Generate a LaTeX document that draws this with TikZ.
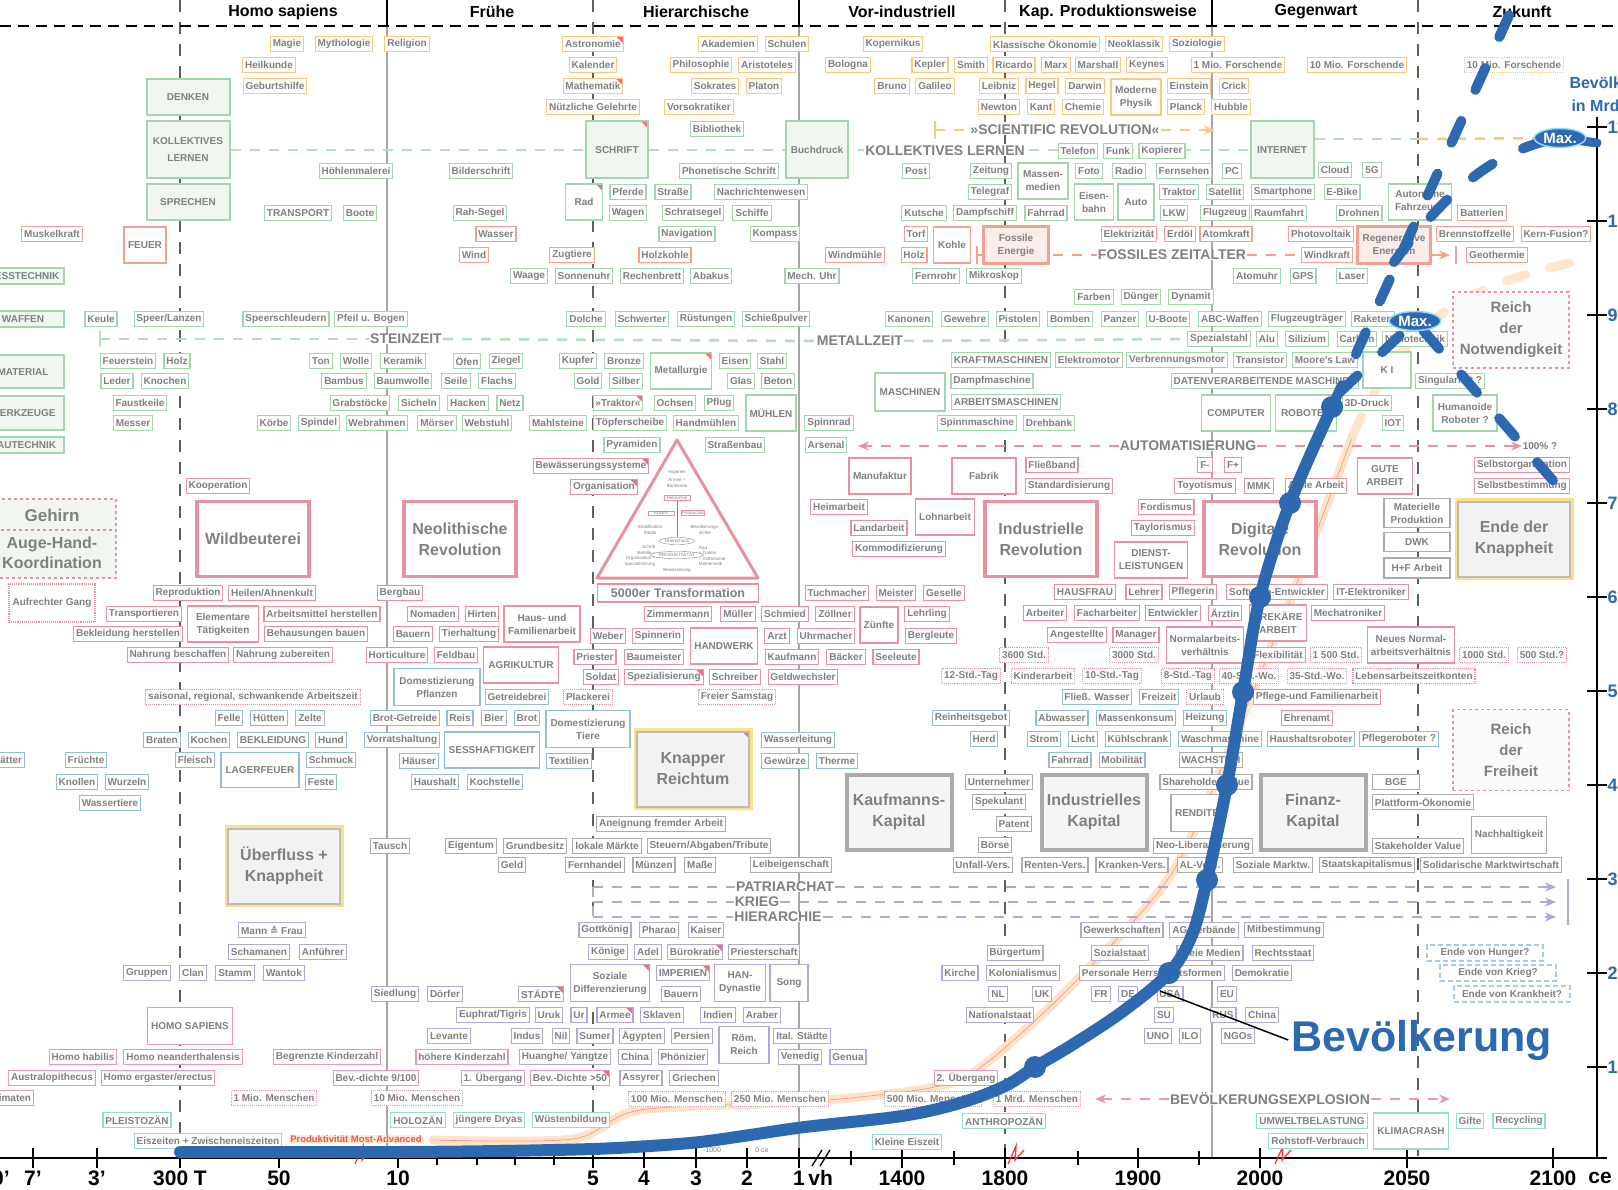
\documentclass[tikz,border=0pt]{standalone}
\usepackage{fontspec}
\setmainfont{Liberation Sans}
\newfontfamily\symfont{DejaVu Sans}
\usetikzlibrary{shapes.geometric,arrows.meta}

\definecolor{txt}{HTML}{808080}
\definecolor{cgreen}{HTML}{A3D5AE}
\definecolor{corange}{HTML}{F9C97E}
\definecolor{csalmon}{HTML}{F3A093}
\definecolor{cred}{HTML}{E8929F}
\definecolor{cblue}{HTML}{93BCE2}
\definecolor{cpurple}{HTML}{B3A6D9}
\definecolor{cpink}{HTML}{E597C2}
\definecolor{cteal}{HTML}{95DAD3}
\definecolor{cgray}{HTML}{ABABAB}
\definecolor{cyellow}{HTML}{FBE08A}
\definecolor{ctri}{HTML}{E57383}
\definecolor{pblue}{HTML}{2D69B0}
\definecolor{gfill}{HTML}{F2F6F0}
\definecolor{lgray}{HTML}{F2F2F2}
\definecolor{sfill}{HTML}{FBEDE8}

\pgfdeclarelayer{bottom}
\pgfdeclarelayer{back}
\pgfdeclarelayer{front}
\pgfsetlayers{bottom,back,main,front}

\tikzset{
  bx/.style={draw=#1, line width=1.1pt, fill=white, text=txt, inner xsep=2.4pt, inner ysep=0pt,
    minimum height=15pt, font=\bfseries\fontsize{10}{11}\selectfont},
  gb/.style={bx=cgreen}, ob/.style={bx=corange}, sb/.style={bx=csalmon},
  rb/.style={bx=cred}, bb/.style={bx=cblue}, pb/.style={bx=cpurple},
  kb/.style={bx=cpink}, tb/.style={bx=cteal}, yb/.style={bx=cgray},
  dotbx/.style={bx=#1, densely dotted, line width=1.2pt},
  tall/.style={minimum height=36pt, align=center, font=\bfseries\fontsize{10}{13}\selectfont},
  redtip/.style={path picture={\fill[ctri] (path picture bounding box.north east)
    -- ++(-7pt,0pt) -- ++(7pt,-7pt) -- cycle;}},
  grnbig/.style={draw=cgreen, line width=2pt, fill=gfill, text=txt, align=center,
    minimum width=83pt, minimum height=36pt, font=\bfseries\fontsize{10}{17}\selectfont},
  fosbox/.style={draw=csalmon, line width=2.5pt, fill=sfill, text=txt, align=center,
    minimum height=37pt, font=\bfseries\fontsize{10}{13}\selectfont},
  bigbox/.style={draw=#1, line width=3.5pt, fill=white, text=txt, align=center,
    minimum width=112pt, minimum height=75pt, font=\bfseries\fontsize{16}{21}\selectfont},
  capbox/.style={bigbox=cgray, line width=4pt, fill=white!96!black, minimum width=105pt},
  yelbox/.style={bigbox=cgray!80, line width=2pt, fill=lgray, preaction={draw=cyellow, line width=7pt}},
  reich/.style={draw=cred, dashed, line width=1.2pt, fill=white!98!black, text=txt, align=center,
    minimum width=116pt, font=\bfseries\fontsize{15}{21}\selectfont},
  endebx/.style={draw=cblue!80, dash pattern=on 5pt off 3pt, line width=1.1pt, fill=white, text=txt,
    minimum width=116pt, minimum height=16pt, font=\bfseries\fontsize{10}{11}\selectfont},
  theme/.style={fill=white, text=txt, inner xsep=1pt, inner ysep=0pt, font=\bfseries\fontsize{14}{14}\selectfont},
  head/.style={font=\bfseries\fontsize{16}{16}\selectfont},
  axl/.style={font=\bfseries\fontsize{21}{21}\selectfont},
  yax/.style={text=pblue, anchor=west, font=\bfseries\fontsize{18}{18}\selectfont},
  maxel/.style={ellipse, fill=pblue, draw=cyan!45, line width=1.5pt, text=white, inner sep=1.5pt,
    font=\bfseries\fontsize{15}{15}\selectfont},
  pyr/.style={text=txt, inner sep=0.6pt, font=\fontsize{4.5}{5.5}\selectfont},
  divdash/.style={gray!75!black, line width=1.2pt, dash pattern=on 12pt off 10pt},
  divline/.style={gray!70, line width=1.2pt},
  gdash/.style={cgreen!80, line width=2.5pt, dash pattern=on 10pt off 9pt},
  odash/.style={corange, line width=2.5pt, dash pattern=on 10pt off 9pt},
  sdash/.style={csalmon, line width=2pt, dash pattern=on 10pt off 9pt},
  rdash/.style={cred, line width=2pt, dash pattern=on 10pt off 9pt},
  pdash/.style={cpurple, line width=2pt, dash pattern=on 10pt off 9pt},
  kdash/.style={cpink, line width=2pt, dash pattern=on 10pt off 9pt},
  tip/.style={-{Stealth[length=11pt,width=9pt]}},
  pop/.style={pblue, line width=12pt, line cap=round, line join=round},
  popdash/.style={pblue, line width=10pt, line cap=round, dash pattern=on 24pt off 34pt},
}

\begin{document}
\begin{tikzpicture}[x=1pt,y=-1pt]
\useasboundingbox (0,0) rectangle (1618,1190);
\begin{pgfonlayer}{bottom}
  \fill[white] (0,0) rectangle (1618,1190);
\end{pgfonlayer}

% epochs
\node[head] (hsap) at (283,12) {Homo sapiens};
\node[head] (hfrueh) at (492,12) {Frühe};
\node[head] (hhier) at (696,12) {Hierarchische};
\node[head] (hvor) at (902,12) {Vor-industriell};
\node[head] (hkap) at (1108,12) {Kap. Produktionsweise};
\node[head] (hgeg) at (1316,12) {Gegenwart};
\node[head] (hzuk) at (1522,12) {Zukunft};

% theme labels
\node[theme] (steinzeit) at (406,339) {STEINZEIT};
\node[theme] (metallzeit) at (860,341) {METALLZEIT};
\node[theme] (kolllab) at (945,151) {KOLLEKTIVES LERNEN};
\node[theme] (scirev) at (1065,130) {»SCIENTIFIC REVOLUTION«};
\node[theme] (fossilz) at (1172,255) {FOSSILES ZEITALTER};
\node[theme] (automat) at (1188,446) {AUTOMATISIERUNG};
\node[theme] (patri) at (785,887) {PATRIARCHAT};
\node[theme] (kriega) at (757,902) {KRIEG};
\node[theme] (hierar) at (778,917) {HIERARCHIE};
\node[theme] (bevexpl) at (1270,1099) {BEVÖLKERUNGSEXPLOSION};
\node[text=txt, font=\bfseries\fontsize{10}{10}\selectfont] (pct) at (1540,446) {100\% ?};

% wissen
\foreach \n/\x/\y/\t in {magie/287/44/Magie, mytho/344/44/Mythologie, religion/407/44/Religion,
  heilk/269/65/Heilkunde, geburt/275/86/Geburtshilfe, kalender/593/65/Kalender,
  gelehrte/593/107/Nützliche Gelehrte, akad/728/44/Akademien, schulen/787/44/Schulen,
  philo/701/65/Philosophie, aristo/767/65/Aristoteles, sokrates/715/86/Sokrates,
  platon/764/86/Platon, vorsokr/699/107/Vorsokratiker, kopernikus/893/44/Kopernikus,
  bologna/848/65/Bologna, kepler/930/65/Kepler, smith/971/65/Smith, ricardo/1014/65/Ricardo,
  marx/1056/65/Marx, marshall/1098/65/Marshall, keynes/1147/65/Keynes, bruno/892/86/Bruno,
  galileo/935/86/Galileo, leibniz/999/86/Leibniz, hegel/1042/86/Hegel, darwin/1085/86/Darwin,
  einstein/1189/86/Einstein, newton/999/107/Newton, kant/1041/107/Kant, chemie/1083/107/Chemie,
  planck/1186/107/Planck, klassik/1045/44/Klassische Ökonomie, neoklassik/1134/44/Neoklassik,
  soziologie/1197/44/Soziologie, forscha/1238/65/1 Mio. Forschende, forschb/1357/65/10 Mio. Forschende,
  crick/1234/86/Crick, hubble/1231/107/Hubble}
  \node[ob] (\n) at (\x,\y) {\t};
\node[ob,redtip] (astro) at (593,44) {Astronomie};
\node[ob,redtip] (mathe) at (593,86) {Mathematik};
\node[ob,tall,minimum width=50pt] (modphys) at (1136,97) {Moderne\\Physik};
\node[dotbx=corange] (forschc) at (1514,65) {10 Mio. Forschende};

% technik
\node[grnbig] (denken) at (188,97) {DENKEN};
\node[grnbig, minimum height=57pt] (kollektiv) at (188,150) {KOLLEKTIVES\\LERNEN};
\node[grnbig] (sprechen) at (188,202) {SPRECHEN};
\node[grnbig, minimum width=62pt, minimum height=57pt, redtip] (schrift) at (617,150) {SCHRIFT};
\node[grnbig, minimum width=62pt, minimum height=57pt] (buchdruck) at (817,150) {Buchdruck};
\node[grnbig, minimum width=63pt, minimum height=57pt] (internet) at (1282,150) {INTERNET};
\node[grnbig, minimum width=82pt, minimum height=16pt] (messtech) at (23,276) {MESSTECHNIK};
\node[grnbig, minimum width=82pt, minimum height=16pt] (waffen) at (23,319) {WAFFEN};
\node[grnbig, minimum width=82pt, minimum height=33pt] (material) at (23,372) {MATERIAL};
\node[grnbig, minimum width=82pt, minimum height=34pt] (werkzeuge) at (23,413) {WERKZEUGE};
\node[grnbig, minimum width=82pt, minimum height=16pt] (bautech) at (23,445) {BAUTECHNIK};

\foreach \n/\x/\y/\t in {hoehlen/356/171/Höhlenmalerei, transport/298/213/TRANSPORT, boote/360/213/Boote,
  keule/101/319/Keule, speer/169/319/{Speer/Lanzen}, speersch/286/319/Speerschleudern,
  pfeil/371/319/Pfeil u. Bogen, feuerst/128/361/Feuerstein, holz/177/361/Holz, leder/117/381/Leder,
  knochen/165/381/Knochen, ton/321/361/Ton, wolle/356/361/Wolle, keramik/403/361/Keramik,
  bambus/344/381/Bambus, baumwolle/403/381/Baumwolle, oefen/467/361/Öfen, ziegel/506/361/Ziegel,
  seile/456/381/Seile, flachs/497/381/Flachs, faustk/140/403/Faustkeile, messer/133/423/Messer,
  grabst/360/403/Grabstöcke, sicheln/419/403/Sicheln, hacken/468/403/Hacken, netz/510/403/Netz,
  koerbe/274/423/Körbe, spindel/319/423/Spindel, webrahmen/377/423/Webrahmen, moerser/437/423/Mörser,
  webstuhl/487/423/Webstuhl, mahlst/558/423/Mahlsteine, ochsen/675/403/Ochsen, pflug/719/403/Pflug,
  toepfer/630/423/Töpferscheibe, handm/706/423/Handmühlen, pyramiden/632/445/Pyramiden,
  strassenb/735/445/Straßenbau, spinnrad/829/423/Spinnrad, arsenal/826/445/Arsenal,
  bibliothek/717/129/Bibliothek, bilderschr/481/171/Bilderschrift, phonet/729/171/Phonetische Schrift,
  pferde/628/192/Pferde, wagen/628/213/Wagen, strasse/673/192/Straße, nachricht/761/192/Nachrichtenwesen,
  rahsegel/480/213/Rah-Segel, schratsegel/693/213/Schratsegel, schiffe/752/213/Schiffe,
  navigation/687/234/Navigation, kompass/775/234/Kompass, waage/529/276/Waage,
  sonnenuhr/584/276/Sonnenuhr, rechenbrett/652/276/Rechenbrett, abakus/711/276/Abakus,
  mechuhr/812/276/Mech. Uhr, dolche/586/319/Dolche, schwerter/642/319/Schwerter,
  ruestung/706/319/Rüstungen, pulver/776/319/Schießpulver, kupfer/578/361/Kupfer,
  bronze/624/361/Bronze, eisen/735/361/Eisen, stahl/772/361/Stahl, gold/588/381/Gold,
  silber/626/381/Silber, glas/741/381/Glas, beton/778/381/Beton,
  telefon/1078/151/Telefon, funk/1118/151/Funk, kopierer/1162/151/Kopierer,
  post/916/171/Post, zeitung/991/171/Zeitung, foto/1089/171/Foto, radio/1129/171/Radio,
  fernsehen/1184/171/Fernsehen, pc/1232/171/PC, cloud/1335/170/Cloud, fuenfg/1372/170/5G,
  telegraf/990/192/Telegraf, traktorb/1179/192/Traktor, satellit/1225/192/Satellit,
  smartph/1283/192/Smartphone, ebike/1342/192/E-Bike, kutsche/924/213/Kutsche,
  dampfsch/985/213/Dampfschiff, fahrrad/1046/213/Fahrrad, lkw/1174/213/LKW,
  flugzeug/1225/213/Flugzeug, raumfahrt/1279/213/Raumfahrt, drohnen/1359/213/Drohnen,
  fernrohr/936/276/Fernrohr, mikroskop/994/276/Mikroskop, atomuhr/1257/276/Atomuhr,
  gps/1303/276/GPS, laser/1352/276/Laser, farben/1094/297/Farben, duenger/1141/297/Dünger,
  dynamit/1191/297/Dynamit, kanonen/909/319/Kanonen, gewehre/965/319/Gewehre,
  pistolen/1018/319/Pistolen, bomben/1070/319/Bomben, panzer/1120/319/Panzer,
  uboote/1168/319/U-Boote, abc/1230/319/ABC-Waffen, flugztr/1307/319/Flugzeugträger,
  raketen/1373/319/Raketen, spezstahl/1219/339/Spezialstahl, alu/1267/339/Alu,
  silizium/1307/339/Silizium, carbon/1357/339/Carbon, nanotech/1415/339/Nanotechnik,
  kraftm/1001/360/KRAFTMASCHINEN, elektrom/1089/360/Elektromotor, verbrenn/1177/360/Verbrennungsmotor,
  transistor/1260/360/Transistor, moore/1325/360/Moore's Law, dampfm/992/381/Dampfmaschine,
  datenv/1265/381/DATENVERARBEITENDE MASCHINEN, singul/1450/381/Singularität ?,
  arbeitsm/1006/402/ARBEITSMASCHINEN, spinnm/977/423/Spinnmaschine, drehbank/1049/423/Drehbank,
  druck/1367/403/3D-Druck, iot/1393/423/IOT}
  \node[gb] (\n) at (\x,\y) {\t};
\node[gb,redtip] (traktor) at (618,403) {»Traktor«};
\node[gb,tall,minimum width=37pt,redtip] (rad) at (584,202) {Rad};
\node[gb,tall,minimum width=50pt] (muehlen) at (771,413) {MÜHLEN};
\node[gb,tall,minimum width=61pt,redtip] (metallurgie) at (681,371) {Metallurgie};
\node[gb,tall,minimum width=50pt] (massenm) at (1043,181) {Massen-\\medien};
\node[gb,tall,minimum width=39pt] (eisenbahn) at (1094,202) {Eisen-\\bahn};
\node[gb,tall,minimum width=36pt] (auto) at (1136,202) {Auto};
\node[gb,tall,minimum width=63pt] (autonom) at (1420,202) {Autonome\\Fahrzeuge};
\node[gb,tall,minimum width=70pt,minimum height=38pt] (maschinen) at (910,392) {MASCHINEN};
\node[gb,tall,minimum width=48pt] (ki) at (1387,370) {K I};
\node[gb,tall,minimum width=69pt] (computer) at (1236,413) {COMPUTER};
\node[gb,tall,minimum width=61pt] (roboter) at (1306,413) {ROBOTER};
\node[gb,tall,minimum width=64pt] (humanoid) at (1465,413) {Humanoide\\Roboter ?};

% energie
\foreach \n/\x/\y/\t in {muskel/52/234/Muskelkraft, wasser/496/234/Wasser, wind/474/255/Wind,
  zugtiere/572/255/Zugtiere, holzkohle/665/255/Holzkohle, windmuehle/855/255/Windmühle,
  torf/916/234/Torf, holze/914/255/Holz, elektriz/1129/234/Elektrizität, erdoel/1180/234/Erdöl,
  atomkraft/1226/234/Atomkraft, photov/1321/234/Photovoltaik, brennst/1475/234/Brennstoffzelle,
  fusion/1556/234/Kern-Fusion?, windkraft/1327/255/Windkraft, geoth/1497/255/Geothermie,
  batterien/1482/213/Batterien}
  \node[sb] (\n) at (\x,\y) {\t};
\node[sb,tall,minimum width=42pt] (feuer) at (145,245) {FEUER};
\node[sb,tall,minimum width=37pt] (kohle) at (952,245) {Kohle};
\node[fosbox,minimum width=65pt] (fossil) at (1016,245) {Fossile\\Energie};
\node[fosbox,minimum width=73pt] (regen) at (1394,245) {Regenerative\\Energien};

% arbeit
\foreach \n/\x/\y/\t in {kooperation/218/486/Kooperation, reprod/188/593/Reproduktion,
  heilen/272/593/{Heilen/Ahnenkult}, transportieren/144/614/Transportieren,
  arbeitsmittel/322/614/Arbeitsmittel herstellen, bekleidh/128/634/Bekleidung herstellen,
  behausung/316/634/Behausungen bauen, nahrungb/178/655/Nahrung beschaffen,
  nahrungz/283/655/Nahrung zubereiten, bergbau/400/593/Bergbau, nomaden/433/614/Nomaden,
  hirten/482/614/Hirten, bauern/413/634/Bauern, tierhalt/469/634/Tierhaltung,
  horti/397/655/Horticulture, feldbau/456/655/Feldbau, zimmermann/678/614/Zimmermann,
  mueller/738/614/Müller, schmied/785/614/Schmied, weber/608/636/Weber, spinnerin/658/636/Spinnerin,
  arzt/777/636/Arzt, uhrmacher/826/636/Uhrmacher, priester/595/657/Priester,
  baumeister/654/657/Baumeister, kaufmann/792/657/Kaufmann, baecker/846/657/Bäcker,
  seeleute/896/657/Seeleute, soldat/601/677/Soldat, schreiber/735/677/Schreiber,
  geldw/803/677/Geldwechsler, tuchmacher/837/593/Tuchmacher, meister/896/593/Meister,
  geselle/944/593/Geselle, zoellner/835/614/Zöllner, lehrling/927/614/Lehrling,
  bergleute/931/636/Bergleute, fliessband/1052/465/Fließband, standard/1069/486/Standardisierung,
  heimarbeit/839/507/Heimarbeit, landarbeit/879/528/Landarbeit, kommod/899/549/Kommodifizierung,
  fordismus/1166/507/Fordismus, taylor/1163/528/Taylorismus, fminus/1205/465/F-, fplus/1233/465/F+,
  toyot/1205/486/Toyotismus, mmk/1259/486/MMK, agile/1316/486/Agile Arbeit,
  selbstorg/1522/465/Selbstorganisation, selbstbest/1522/486/Selbstbestimmung,
  hausfrau/1085/592/HAUSFRAU, lehrer/1144/592/Lehrer, pflegerin/1193/592/Pflegerin,
  softw/1277/592/Software-Entwickler, itelek/1371/592/IT-Elektroniker, arbeiter/1045/613/Arbeiter,
  facharb/1107/613/Facharbeiter, entwickler/1173/613/Entwickler, aerztin/1225/613/Ärztin,
  mechatr/1348/613/Mechatroniker, angest/1077/635/Angestellte, manager/1136/635/Manager,
  flexib/1278/655/Flexibilität, pflegefam/1317/697/Pflege-und Familienarbeit, ehrenamt/1307/718/Ehrenamt}
  \node[rb] (\n) at (\x,\y) {\t};
\node[rb,redtip] (bewaess) at (591,466) {Bewässerungssysteme};
\node[rb,redtip] (organis) at (604,487) {Organisation};
\node[rb,redtip] (spezial) at (664,677) {Spezialisierung};
\node[rb,minimum width=161pt,minimum height=18pt,font=\bfseries\fontsize{12.5}{13}\selectfont] (transf) at (678,593) {5000er Transformation};
\node[rb,tall,minimum width=71pt] (element) at (223,624) {Elementare\\Tätigkeiten};
\node[rb,tall,minimum width=76pt] (hausfam) at (542,624) {Haus- und\\Familienarbeit};
\node[rb,tall,minimum width=75pt] (agrik) at (521,665) {AGRIKULTUR};
\node[rb,tall,minimum width=67pt] (handwerk) at (724,646) {HANDWERK};
\node[rb,tall,minimum width=38pt] (zuenfte) at (879,625) {Zünfte};
\node[rb,tall,minimum width=62pt] (manuf) at (880,476) {Manufaktur};
\node[rb,tall,minimum width=64pt] (fabrik) at (984,476) {Fabrik};
\node[rb,tall,minimum width=59pt] (lohnarb) at (945,517) {Lohnarbeit};
\node[rb,tall,minimum width=73pt] (dienst) at (1151,560) {DIENST-\\LEISTUNGEN};
\node[rb,tall,minimum width=55pt] (gute) at (1385,476) {GUTE\\ARBEIT};
\node[rb,tall,minimum width=57pt] (prekaer) at (1278,623) {PREKÄRE\\ARBEIT};
\node[rb,tall,minimum width=77pt] (normalarb) at (1205,645) {Normalarbeits-\\verhältnis};
\node[rb,tall,minimum width=87pt] (neuesnorm) at (1411,645) {Neues Normal-\\arbeitsverhältnis};
\node[bigbox=cred] (wildb) at (253,539) {Wildbeuterei};
\node[bigbox=cred] (neolith) at (460,539) {Neolithische\\Revolution};
\node[bigbox=cred] (indrev) at (1041,539) {Industrielle\\Revolution};
\node[bigbox=cred] (digrev) at (1260,539) {Digitale\\Revolution};

\foreach \n/\x/\y/\t in {saisonal/253/697/{saisonal, regional, schwankende Arbeitszeit},
  plackerei/588/697/Plackerei, freiers/737/697/Freier Samstag, stdb/1024/655/3600 Std.,
  stdc/1134/655/3000 Std., stdd/1336/655/1 500 Std., stde/1484/655/1000 Std., stdf/1542/655/500 Std.?,
  taga/971/676/12-Std.-Tag, kinderarb/1043/676/Kinderarbeit, tagb/1112/676/10-Std.-Tag,
  tagc/1188/676/8-Std.-Tag, woa/1249/676/40-Std.-Wo., wob/1317/676/35-Std.-Wo.,
  lebensarb/1414/676/Lebensarbeitszeitkonten, urlaub/1205/697/Urlaub}
  \node[dotbx=cred] (\n) at (\x,\y) {\t};
\node[dotbx=cred,tall,minimum width=86pt,minimum height=38pt] (aufrecht) at (52,603) {Aufrechter Gang};

% gehirn
\draw[cred, dashed, line width=1.2pt, fill=gfill] (-5,499) rectangle (116,578);
\draw[cred, dashed, line width=1.2pt] (-5,530) -- (116,530);
\node[text=txt, font=\bfseries\fontsize{17}{20}\selectfont] (gehirn) at (52,515) {Gehirn};
\node[text=txt, align=center, font=\bfseries\fontsize{16}{20}\selectfont] (augehand) at (52,553) {Auge-Hand-\\Koordination};

% pyramide
\draw[cred, line width=3pt, fill=white, line join=round] (677,440) -- (758,578) -- (597,578) -- cycle;
\node[pyr] (pimp) at (677,472) {Imperien};
\node[pyr, align=center] (parmee) at (677,483) {Armee +\\Bürokratie};
\node[pyr, draw=cred, line width=0.5pt, minimum width=26pt] (phier) at (677,498) {Hierarchie};
\node[pyr, draw=cred, line width=0.5pt, minimum width=26pt] (pkrieg) at (661,513) {KRIEG};
\node[pyr, draw=cred, line width=0.5pt] (ppatr) at (693,513) {Patriarchat};
\node[pyr, align=center] (pstrat) at (650,530) {Stratifikation\\Städte};
\node[pyr, align=center] (pbev) at (705,530) {Bevölkerungs-\\dichte};
\node[pyr, ellipse, draw=txt, line width=0.4pt] (pueber) at (677,541) {Überschuss};
\node[pyr, ellipse, draw=txt, line width=0.4pt] (pprod) at (677,555) {PRODUKTIVITÄT};
\node[pyr, align=right, anchor=east] (pleft) at (656,556) {Schrift\\Metalle –\\Organisation –\\Spezialisierung};
\node[pyr, align=left, anchor=west] (pright) at (698,556) {Rad\\– Traktor\\– Astronomie\\Mathematik};
\node[pyr] (pbew) at (677,570) {Bewässerung};
\draw[txt, line width=0.4pt] (phier.south) -- (pueber.north);

% alltag
\foreach \n/\x/\y/\t in {felle/229/718/Felle, huetten/269/718/Hütten, zelte/310/718/Zelte,
  braten/162/740/Braten, kochen/209/740/Kochen, bekleid/273/740/BEKLEIDUNG, hund/331/740/Hund,
  fleisch/195/760/Fleisch, schmuck/331/760/Schmuck, feste/321/782/Feste, fruechte/86/760/Früchte,
  knollen/77/782/Knollen, wurzeln/127/782/Wurzeln, wassert/110/803/Wassertiere,
  brotg/405/718/Brot-Getreide, vorrat/402/740/Vorratshaltung, haeuser/419/761/Häuser,
  haushalt/435/782/Haushalt, kochst/495/782/Kochstelle, getreideb/517/697/Getreidebrei,
  reis/460/718/Reis, bier/494/718/Bier, brot/527/718/Brot, textil/569/761/Textilien,
  wasserl/798/740/Wasserleitung, gewuerze/785/761/Gewürze, therme/837/761/Therme,
  fliessw/1097/697/Fließ. Wasser, freizeit/1159/697/Freizeit, reinheit/971/718/Reinheitsgebot,
  abwasser/1062/718/Abwasser, massenk/1136/718/Massenkonsum, heizung/1205/718/Heizung,
  herd/984/739/Herd, strom/1044/739/Strom, licht/1083/739/Licht, kuehl/1138/739/Kühlschrank,
  waschm/1220/739/Waschmaschine, hausrob/1311/739/Haushaltsroboter, pflegerob/1399/739/Pflegeroboter ?,
  fahrradb/1070/760/Fahrrad, mobil/1122/760/Mobilität}
  \node[bb] (\n) at (\x,\y) {\t};
\node[bb,anchor=east] (blaetter) at (25,760) {Blätter};
\node[bb,tall,minimum width=78pt,minimum height=35pt] (lagerfeuer) at (260,770) {LAGERFEUER};
\node[bb,tall,minimum width=86pt,minimum height=37pt] (dompfl) at (437,687) {Domestizierung\\Pflanzen};
\node[bb,tall,minimum width=84pt,minimum height=37pt] (domtiere) at (588,729) {Domestizierung\\Tiere};
\node[bb,tall,minimum width=95pt] (sesshaft) at (492,750) {SESSHAFTIGKEIT};

% oekonomie
\foreach \n/\x/\y/\t in {tausch/390/846/Tausch, eigentum/471/846/Eigentum, grundbes/535/846/Grundbesitz,
  lokale/607/846/lokale Märkte, steuern/709/846/{Steuern/Abgaben/Tribute},
  aneignung/661/824/Aneignung fremder Arbeit, geld/512/865/Geld, fernhandel/595/865/Fernhandel,
  muenzen/654/865/Münzen, masse/700/865/Maße, leibeigen/791/865/Leibeigenschaft,
  unternehmer/999/782/Unternehmer, spekulant/999/802/Spekulant, patent/1014/824/Patent,
  boerse/995/845/Börse, unfall/983/865/Unfall-Vers., renten/1055/865/Renten-Vers.,
  kranken/1132/865/Kranken-Vers., alvers/1200/865/AL-Vers., sozmarkt/1273/865/Soziale Marktw.,
  staatskap/1367/865/Staatskapitalismus, solidar/1491/865/Solidarische Marktwirtschaft,
  wachstum/1211/760/WACHSTUM, shareh/1206/782/Shareholder Value,
  plattform/1423/802/Plattform-Ökonomie, stakeh/1418/846/Stakeholder Value,
  neolib/1203/846/Neo-Liberalisierung}
  \node[yb] (\n) at (\x,\y) {\t};
\node[yb,minimum width=47pt] (bge) at (1396,782) {BGE};
\node[yb,tall,minimum width=52pt,minimum height=37pt] (rendite) at (1197,813) {RENDITE};
\node[yb,tall,minimum width=75pt,minimum height=37pt] (nachhalt) at (1509,835) {Nachhaltigkeit};
\node[yb,tall,minimum width=66pt,minimum height=29pt] (materiell) at (1417,513) {Materielle\\Produktion};
\node[yb,minimum width=66pt,minimum height=19pt] (dwk) at (1417,542) {DWK};
\node[yb,minimum width=66pt,minimum height=20pt] (hfarb) at (1417,568) {H+F Arbeit};
\node[capbox] (kaufkap) at (899,812) {Kaufmanns-\\Kapital};
\node[capbox] (indkap) at (1094,812) {Industrielles\\Kapital};
\node[capbox] (finkap) at (1313,812) {Finanz-\\Kapital};
\node[yelbox] (ueberfl) at (284,866) {Überfluss +\\Knappheit};
\node[yelbox,redtip] (knapper) at (693,769) {Knapper\\Reichtum};
\node[yelbox] (endeknapp) at (1514,539) {Ende der\\Knappheit};
\node[reich, minimum height=76pt] (notwendig) at (1511,330) {Reich\\der\\Notwendigkeit};
\node[reich, minimum height=81pt] (freiheit) at (1511,750) {Reich\\der\\Freiheit};

% herrschaft
\foreach \n/\x/\y/\t in {mannfrau/272/930/{Mann {\symfont ≙} Frau}, schamanen/259/952/Schamanen,
  anfuehrer/323/952/Anführer, gruppen/147/973/Gruppen, clan/193/973/Clan, stamm/235/973/Stamm,
  wantok/284/973/Wantok, siedlung/395/994/Siedlung, doerfer/445/994/Dörfer, gottk/605/930/Gottkönig,
  pharao/659/930/Pharao, kaiser/706/930/Kaiser, koenige/608/952/Könige, adel/648/952/Adel,
  priestersch/764/952/Priesterschaft, bauernb/681/994/Bauern, euphrat/493/1015/{Euphrat/Tigris},
  uruk/549/1015/Uruk, ur/579/1015/Ur, sklaven/662/1015/Sklaven, indien/718/1015/Indien,
  araber/762/1015/Araber, levante/449/1036/Levante, indus/527/1036/Indus, nil/561/1036/Nil,
  sumer/595/1036/Sumer, aegypten/642/1036/Ägypten, persien/692/1036/Persien,
  italst/802/1036/Ital. Städte, venedig/800/1057/Venedig, genua/848/1057/Genua,
  huanghe/565/1057/{Huanghe/ Yangtze}, chinaa/635/1057/China, phoen/683/1057/Phönizier,
  assyrer/641/1078/Assyrer, griechen/694/1078/Griechen, gewerk/1122/930/Gewerkschaften,
  agverb/1204/930/AG-Verbände, mitbest/1284/930/Mitbestimmung, buergert/1015/953/Bürgertum,
  sozstaat/1120/953/Sozialstaat, freiemed/1210/953/Freie Medien, rechtsst/1283/953/Rechtsstaat,
  kirche/960/973/Kirche, kolonial/1023/973/Kolonialismus, personal/1152/973/Personale Herrschaftsformen,
  demokr/1262/973/Demokratie, nl/998/994/NL, uk/1042/994/UK, fr/1101/994/FR, de/1128/994/DE,
  usa/1170/994/USA, eu/1227/994/EU, nationalst/1000/1015/Nationalstaat, su/1164/1015/SU,
  rus/1223/1015/RUS, chinab/1262/1015/China, uno/1158/1036/UNO, ilo/1190/1036/ILO, ngos/1238/1036/NGOs}
  \node[pb] (\n) at (\x,\y) {\t};
\node[pb,redtip] (buerokr) at (695,952) {Bürokratie};
\node[pb,redtip] (imperien) at (683,973) {IMPERIEN};
\node[pb,redtip] (staedte) at (541,994) {STÄDTE};
\node[pb,redtip] (armee) at (615,1015) {Armee};
\node[pb,tall,minimum width=79pt,minimum height=37pt,redtip] (sozdiff) at (610,983) {Soziale\\Differenzierung};
\node[pb,tall,minimum width=51pt,minimum height=37pt] (han) at (740,983) {HAN-\\Dynastie};
\node[pb,tall,minimum width=38pt,minimum height=37pt] (song) at (789,983) {Song};
\node[pb,tall,minimum width=50pt,minimum height=37pt] (roem) at (744,1045) {Röm.\\Reich};
\node[endebx] (hunger) at (1485,953) {Ende von Hunger?};
\node[endebx] (kriegb) at (1498,973) {Ende von Krieg?};
\node[endebx] (krankh) at (1512,994) {Ende von Krankheit?};

% menschen
\foreach \n/\x/\y/\t in {habilis/83/1057/Homo habilis, neander/183/1057/Homo neanderthalensis,
  begrenzt/327/1057/Begrenzte Kinderzahl, australo/52/1078/Australopithecus,
  ergaster/158/1078/{Homo ergaster/erectus}, bevdichtea/376/1078/{Bev.-dichte 9/100},
  hoehere/462/1057/höhere Kinderzahl, uebergang/493/1078/1. Übergang, uebergangb/966/1078/2. Übergang}
  \node[kb] (\n) at (\x,\y) {\t};
\node[kb,anchor=east] (primaten) at (34,1098) {Primaten};
\node[kb,redtip] (bevdichteb) at (570,1078) {Bev.-Dichte >50};
\node[kb,tall,minimum width=85pt,minimum height=37pt] (homosap) at (190,1026) {HOMO SAPIENS};
\foreach \n/\x/\y/\t in {mioa/274/1098/1 Mio. Menschen, miob/417/1098/10 Mio. Menschen,
  mioc/677/1099/100 Mio. Menschen, miod/780/1099/250 Mio. Menschen,
  mioe/933/1099/500 Mio. Menschen, mrd/1037/1099/1 Mrd. Menschen}
  \node[dotbx=cpink] (\n) at (\x,\y) {\t};

% umwelt
\foreach \n/\x/\y/\t in {pleisto/137/1120/PLEISTOZÄN, eiszeiten/208/1141/Eiszeiten + Zwischeneiszeiten,
  holozaen/418/1120/HOLOZÄN, dryas/489/1120/jüngere Dryas, wueste/571/1120/Wüstenbildung,
  anthropo/1004/1121/ANTHROPOZÄN, kleineis/907/1142/Kleine Eiszeit, umwelt/1312/1121/UMWELTBELASTUNG,
  rohstoff/1318/1141/Rohstoff-Verbrauch, gifte/1470/1121/Gifte, recycling/1519/1121/Recycling}
  \node[tb] (\n) at (\x,\y) {\t};
\node[tb,tall,minimum width=75pt] (klima) at (1411,1131) {KLIMACRASH};
\node[fill=orange!15, text=red!70, inner sep=1pt, font=\bfseries\fontsize{9.5}{10}\selectfont] (prodlab) at (356,1139) {Produktivität Most-Advanced};

% achsen
\foreach \n/\x/\t in {axa/-5/10’, axb/33/7’, axc/97/3’, axd/180/300 T, axe/279/50, axf/398/10,
  axg/593/5, axh/644/4, axi/696/3, axj/747/2, axk/813/1\,vh, axl/902/1400, axm/1005/1800,
  axn/1138/1900, axo/1260/2000, axp/1407/2050, axq/1553/2100, axr/1600/ce}
  \node[axl] (\n) at (\x,1178) {\t};
\node[text=txt, font=\fontsize{7}{7}\selectfont] (mtsd) at (712,1150) {-1000};
\node[text=txt, font=\fontsize{7}{7}\selectfont] (nullce) at (762,1150) {0 ce};
\foreach \v/\y in {11/127,10/221,9/315,8/409,7/503,6/597,5/691,4/785,3/879,2/973,1/1067}
  \node[yax] (y\v) at (1604,\y) {\v};
\node[text=pblue, anchor=west, font=\bfseries\fontsize{16}{16}\selectfont] (bevtop) at (1566,84) {Bevölkerung};
\node[text=pblue, anchor=west, font=\bfseries\fontsize{16}{16}\selectfont] (mrdtop) at (1568,106) {in Mrd.};

% kurve
\begin{pgfonlayer}{front}
  \draw[pop] plot[smooth, tension=0.55] coordinates {(180,1152) (300,1152) (400,1152) (500,1151)
    (593,1149) (650,1146) (700,1142) (750,1135) (805,1127) (902,1116) (960,1103) (1005,1086)
    (1035,1067) (1072,1045) (1122,1012) (1169,973) (1192,935) (1207,880) (1227,785) (1243,692)
    (1260,597) (1290,503) (1332,407)};
  \foreach \x/\y in {1035/1067, 1169/973, 1207/880, 1227/785, 1243/692, 1260/597, 1290/503, 1332/407}
    \fill[pblue] (\x,\y) circle[radius=11pt];
  \coordinate (ma) at (1560,138);
  \coordinate (mb) at (1415,321);
  \draw[popdash] (1332,407) -- (1516,0);
  \draw[popdash] (1394,262) .. controls (1440,200) and (1490,150) .. (ma);
  \draw[pblue, line width=9pt, line cap=round] (ma) -- (1597,143);
  \draw[popdash] (1340,392) -- (mb) -- (1556,484);
  \node[maxel] (maxa) at (ma) {Max.};
  \node[maxel] (maxb) at (mb) {Max.};
  \node[text=pblue, font=\bfseries\fontsize{43}{43}\selectfont] (bevlab) at (1422,1040) {Bevölkerung};
  \coordinate (bevpt) at (1160,991);
  \draw[line width=1.5pt] (bevlab.west) -- (bevpt);
\end{pgfonlayer}

% linien
\begin{pgfonlayer}{back}
  \foreach \x in {180,593,1005,1418} \draw[divdash] (\x,0) -- (\x,1158);
  \foreach \x in {387,799,1212} {
    \draw[divline] (\x,26) -- (\x,1158);
    \draw[black, line width=1.2pt] (\x,0) -- (\x,26);
  }
  \draw[black, line width=1.5pt, dash pattern=on 11pt off 7pt] (0,26) -- (1618,26);
  \draw[line width=1.5pt] (0,1158) -- (1607,1158);
  \draw[line width=1.5pt] (1597,117) -- (1597,1158);
  \foreach \y in {127,221,315,409,503,597,691,785,879,973,1067}
    \draw[line width=1.5pt] (1587,\y) -- (1607,\y);
  \foreach \x in {33,97,180,279,398,593,644,696,747,799,902,1005,1138,1260,1407,1553}
    \draw[line width=1.3pt] (\x,1148) -- (\x,1168);
  \foreach \x in {437,477,515,554,851,954,1078,1199}
    \draw[line width=1.3pt] (\x,1151) -- (\x,1165);
  \draw[line width=1.3pt] (812,1166) -- (822,1150) (820,1166) -- (830,1150);
  \foreach \x in {362,1015,1282}
    \draw[red!80, line width=1.3pt] (\x-7,1164) -- (\x+1,1146) -- (\x,1160) -- (\x+9,1150);
  % produktivitaet
  \draw[orange!22, line width=9pt, line cap=round, line join=round] plot[smooth] coordinates {(433,1140)
    (573,1139) (640,1110) (805,1102) (935,1087) (985,1064) (1072,985) (1172,873) (1242,718)
    (1300,575) (1353,435)};
  \draw[red!45, line width=0.6pt] plot[smooth] coordinates {(433,1140)
    (573,1139) (640,1110) (805,1102) (935,1087) (985,1064) (1072,985) (1172,873) (1242,718)
    (1300,575) (1353,435)};
  \draw[orange!20, line width=9pt, line cap=round, dash pattern=on 20pt off 25pt]
    (1353,435) .. controls (1400,330) and (1450,290) .. (1570,263);
  % themen
  \draw[gdash] (kollektiv.east) -- (internet.west);
  \draw[gdash] (internet.east |- 0,139) -- (1418,139);
  \draw[odash] (1418,139) -- (ma);
  \draw[corange, line width=2.5pt] (935,121) -- (935,139);
  \draw[odash] (935,130) -- (scirev.west);
  \draw[odash, tip] (scirev.east) -- (1215,130);
  \draw[cgreen!80, line width=2pt] (100,331) -- (100,347);
  \draw[gdash] (100,339) -- (steinzeit.west);
  \draw[gdash] (steinzeit.east) -- (metallzeit.west);
  \draw[gdash] (metallzeit.east) -- (spezstahl.west);
  \draw[csalmon, line width=2.5pt] (977,246) -- (977,264);
  \draw[sdash] (977,255) -- (fossilz.west);
  \draw[sdash] (fossilz.east) -- (windkraft.west);
  \draw[sdash, tip] (regen.east |- windkraft.east) -- (1450,255);
  \draw[csalmon, line width=2.5pt] (1456,246) -- (1456,264);
  \draw[rdash, tip] (automat.west) -- (858,446);
  \draw[rdash, tip] (automat.east) -- (1522,446);
  \draw[pdash] (593,887) -- (593,917);
  \foreach \l/\y in {patri/887, kriega/902, hierar/917} {
    \draw[pdash] (593,\y) -- (\l.west);
    \draw[pdash, tip] (\l.east) -- (1556,\y);
    \draw[cpurple, line width=2pt] (1568,\y-8) -- (1568,\y+8);
  }
  \draw[kdash, tip] (bevexpl.west) -- (1095,1099);
  \draw[kdash, tip] (bevexpl.east) -- (1450,1099);
\end{pgfonlayer}
\end{tikzpicture}
\end{document}
